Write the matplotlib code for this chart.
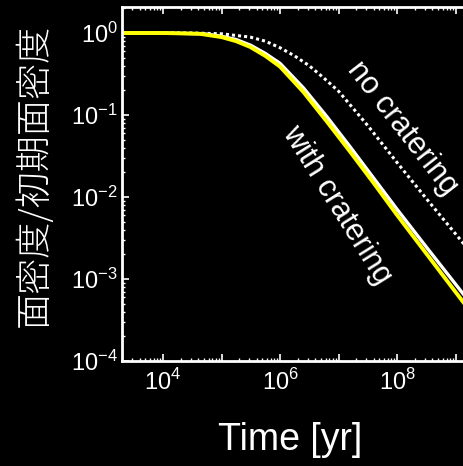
import matplotlib.pyplot as plt
import matplotlib.ticker as mticker
import numpy as np

plt.rcParams['font.family'] = ['Liberation Sans', 'DejaVu Sans']
plt.rcParams['mathtext.fontset'] = 'custom'
plt.rcParams['mathtext.rm'] = 'Liberation Sans'

# log10 of time [yr] and log10 of surface density ratio
t_with = [3.3, 4.0, 4.63, 5.0, 5.25, 5.49, 5.75, 6.0, 6.4, 6.8, 7.2, 7.6, 8.0, 8.5, 9.15, 9.6]
s_with = [0.0, 0.0, -0.01, -0.05, -0.10, -0.17, -0.28, -0.41, -0.72, -1.08, -1.45, -1.83, -2.22, -2.69, -3.30, -3.73]

t_white = [3.3, 4.0, 4.7, 5.0, 5.25, 5.5, 5.75, 6.0, 6.4, 6.8, 7.2, 7.6, 8.0, 8.5, 9.15, 9.6]
s_white = [0.0, 0.0, -0.01, -0.04, -0.08, -0.15, -0.25, -0.37, -0.67, -1.02, -1.39, -1.77, -2.15, -2.61, -3.20, -3.62]

t_nocr = [3.3, 4.5, 5.0, 5.49, 5.75, 6.0, 6.25, 6.5, 6.75, 7.0, 7.5, 8.0, 8.5, 9.15, 9.6]
s_nocr = [0.0, 0.0, -0.01, -0.05, -0.10, -0.18, -0.28, -0.40, -0.55, -0.71, -1.13, -1.58, -2.02, -2.58, -2.96]

x_decades = [1e3, 1e4, 1e5, 1e6, 1e7, 1e8, 1e9, 1e10]
x_labels = ['', r'$10^{4}$', '', r'$10^{6}$', '', r'$10^{8}$', '', '']
y_decades = [1e-4, 1e-3, 1e-2, 1e-1, 1e0]

fig = plt.figure(figsize=(4.64, 4.66), dpi=100, facecolor='black')
ax = fig.add_axes([0.263, 0.2253, 0.845, 0.7597], facecolor='black')

ax.plot(10**np.array(t_nocr), 10**np.array(s_nocr), color='white', lw=2.2, linestyle=(0, (1, 1)))
ax.plot(10**np.array(t_white), 10**np.array(s_white), color='white', lw=2.4)
ax.plot(10**np.array(t_with), 10**np.array(s_with), color='#ffff00', lw=2.8)

ax.set_xscale('log')
ax.set_yscale('log')
ax.set_xticks(x_decades)
ax.set_xticklabels(x_labels)
ax.set_yticks(y_decades)
ax.xaxis.set_minor_locator(mticker.LogLocator(subs=np.arange(2, 10), numticks=100))
ax.yaxis.set_minor_locator(mticker.LogLocator(subs=np.arange(2, 10), numticks=100))
ax.xaxis.set_minor_formatter(mticker.NullFormatter())
ax.yaxis.set_minor_formatter(mticker.NullFormatter())
ax.set_xlim(10**3.3, 1e10)
ax.set_ylim(1e-4, 10**0.317)

for s in ax.spines.values():
    s.set_color('white')
    s.set_linewidth(2)
ax.tick_params(which='both', direction='in', colors='white', top=True, right=True)
ax.tick_params(which='major', length=5, width=1.2, labelsize=17, pad=3)
ax.tick_params(which='minor', length=2.5, width=1)
ax.tick_params(axis='x', pad=6)

ax.text(10**8.09, 10**-1.16, 'no cratering', color='white', fontsize=22,
        rotation=-52, ha='center', va='center', rotation_mode='anchor')
ax.text(10**6.97, 10**-2.10, 'with cratering', color='white', fontsize=22,
        rotation=-58, ha='center', va='center', rotation_mode='anchor')

fig.text(290 / 464, 1 - 440 / 466, 'Time [yr]', color='white', fontsize=27,
         ha='center', va='center')
fig.text(35 / 464, 1 - 175 / 466, '面密度/初期面密度', color='white', fontsize=26,
         rotation=90, ha='center', va='center',
         family=['Noto Sans CJK JP', 'DejaVu Sans'], fontweight='light')

fig.savefig('out.png', dpi=100, facecolor='black')
